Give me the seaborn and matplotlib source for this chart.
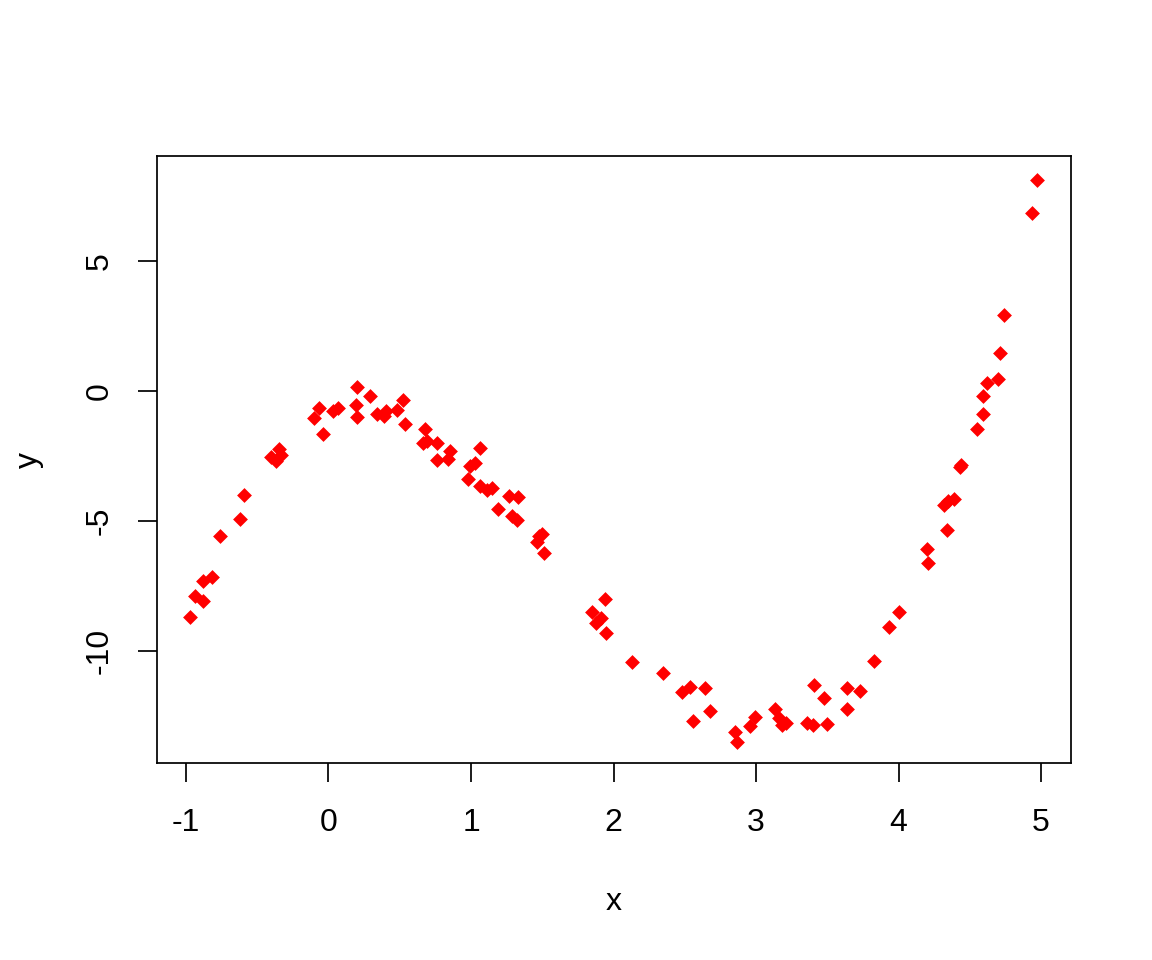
import numpy as np
import pandas as pd
import seaborn as sns
from matplotlib import pyplot as plt

# values
x_vals = [-0.97, -0.94, -0.88, -0.88, -0.82, -0.76, -0.62, -0.59, -0.40, -0.37,
          -0.35, -0.33, -0.10, -0.07, -0.04, 0.03, 0.07, 0.20, 0.19, 0.20,
          0.29, 0.34, 0.39, 0.40, 0.48, 0.52, 0.54, 0.68, 0.66, 0.69,
          0.76, 0.76, 0.85, 0.84, 0.98, 0.99, 1.03, 1.06, 1.06, 1.11,
          1.15, 1.19, 1.27, 1.29, 1.33, 1.32, 1.46, 1.48, 1.50, 1.51,
          1.94, 1.85, 1.91, 1.88, 1.95, 2.13, 2.35, 2.48, 2.54, 2.64,
          2.68, 2.56, 2.85, 2.87, 2.96, 2.99, 3.13, 3.16, 3.18, 3.21,
          3.36, 3.40, 3.50, 3.41, 3.48, 3.64, 3.64, 3.73, 3.83, 3.93,
          4.00, 4.20, 4.21, 4.34, 4.32, 4.35, 4.39, 4.44, 4.43, 4.55,
          4.59, 4.59, 4.62, 4.70, 4.71, 4.74, 4.94, 4.97]
y_vals = [-8.69, -7.88, -7.31, -8.08, -7.15, -5.58, -4.92, -4.00, -2.54, -2.69,
          -2.23, -2.46, -1.04, -0.65, -1.65, -0.77, -0.65, 0.15, -0.54, -1.00,
          -0.19, -0.88, -0.96, -0.77, -0.73, -0.35, -1.27, -1.46, -2.00, -1.92,
          -2.00, -2.65, -2.31, -2.62, -3.38, -2.88, -2.77, -2.19, -3.65, -3.81,
          -3.73, -4.54, -4.04, -4.81, -4.08, -4.96, -5.81, -5.58, -5.50, -6.23,
          -8.00, -8.50, -8.73, -8.92, -9.31, -10.42, -10.85, -11.58, -11.38, -11.42,
          -12.31, -12.69, -13.12, -13.50, -12.88, -12.54, -12.23, -12.58, -12.85, -12.77,
          -12.77, -12.85, -12.81, -11.31, -11.81, -12.23, -11.42, -11.54, -10.38, -9.08,
          -8.50, -6.08, -6.62, -5.35, -4.38, -4.23, -4.15, -2.85, -2.92, -1.46,
          -0.88, -0.19, 0.31, 0.46, 1.46, 2.92, 6.85, 8.12]

x_ticks = [-1, 0, 1, 2, 3, 4, 5]
y_ticks = [-10, -5, 0, 5]

df = pd.DataFrame({"x": x_vals, "y": y_vals})

sns.set_style("white")
plt.rcParams["font.family"] = ["Liberation Sans", "DejaVu Sans"]
plt.rcParams["text.color"] = "black"
plt.rcParams["axes.labelcolor"] = "black"
plt.rcParams["xtick.color"] = "black"
plt.rcParams["ytick.color"] = "black"

fig = plt.figure(figsize=(12, 10), dpi=96)
ax = fig.add_axes([157 / 1152, 1 - 763 / 960, 914 / 1152, 607 / 960])

sns.scatterplot(data=df, x="x", y="y", marker="D", s=62, color="#ff0000",
                linewidth=0, ax=ax)

ax.set_xlim(-1.2035, 5.2105)
ax.set_ylim(-14.31, 9.04)
ax.set_xticks(x_ticks)
ax.set_yticks(y_ticks)
ax.set_xticklabels([str(t) for t in x_ticks], fontsize=24)
ax.set_yticklabels([str(t) for t in y_ticks], fontsize=24, rotation=90, va="center")
ax.tick_params(axis="x", direction="out", length=14, width=1.3, pad=20, bottom=True)
ax.tick_params(axis="y", direction="out", length=14, width=1.3, pad=18, left=True)

for side in ax.spines.values():
    side.set_visible(True)
    side.set_color("black")
    side.set_linewidth(1.3)

ax.set_xlabel("x", fontsize=24)
ax.set_ylabel("y", fontsize=24)
ax.xaxis.label.set_va("center")
ax.yaxis.label.set_va("center")
ax.xaxis.set_label_coords(0.5, -0.229)
ax.yaxis.set_label_coords(-0.140, 0.5)

fig.savefig("out.png", dpi=96, facecolor="white")
